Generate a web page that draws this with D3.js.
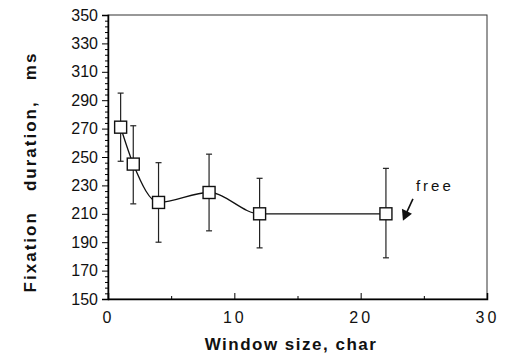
<!DOCTYPE html>
<html>
<head>
<meta charset="utf-8">
<script src="https://cdn.jsdelivr.net/npm/d3@7"></script>
<style>
  body { margin: 0; background: #fff; }
  text { font-family: "Liberation Sans", Arial, sans-serif; fill: #111; }
</style>
</head>
<body>
<div id="chart"></div>
<script>
// Datos
const windowSize = [1, 2, 4, 8, 12, 22];
const fixation = [271, 245, 218, 225, 210, 210];
const errTop = [295, 272, 246, 252, 235, 242];
const errBottom = [247, 217, 190, 198, 186, 179];
const yTicks = [150, 170, 190, 210, 230, 250, 270, 290, 310, 330, 350];
const xTicks = [0, 10, 20, 30];

const width = 505;
const height = 355;
const margin = { top: 15, right: 18, bottom: 56, left: 108 };

const x = d3.scaleLinear()
    .domain([0, 30])
    .range([margin.left, width - margin.right]);

const y = d3.scaleLinear()
    .domain([150, 350])
    .range([height - margin.bottom, margin.top]);

const svg = d3.select("#chart").append("svg")
    .attr("width", width)
    .attr("height", height);

// Marco
svg.append("rect")
    .attr("x", x(0))
    .attr("y", y(350))
    .attr("width", x(30) - x(0))
    .attr("height", y(150) - y(350))
    .attr("fill", "none")
    .attr("stroke", "#333")
    .attr("stroke-width", 1);

// Eje Y: menores cada 4
const yMinor = d3.range(150, 351, 4).filter(v => !yTicks.includes(v));
svg.append("g")
    .attr("transform", `translate(${x(0)},0)`)
    .call(d3.axisLeft(y).tickValues(yMinor).tickSize(3).tickFormat(""))
    .call(g => g.select(".domain").remove());

svg.append("g")
    .attr("transform", `translate(${x(0)},0)`)
    .call(d3.axisLeft(y).tickValues(yTicks).tickSize(6).tickPadding(4))
    .call(g => g.select(".domain").attr("stroke-width", 1.5))
    .call(g => g.selectAll("text").style("font-size", "16px"));

// Eje X
svg.append("g")
    .attr("transform", `translate(0,${y(150)})`)
    .call(d3.axisBottom(x).tickValues([5, 15, 25]).tickSize(-3).tickFormat(""))
    .call(g => g.select(".domain").remove());

svg.append("g")
    .attr("transform", `translate(0,${y(150)})`)
    .call(d3.axisBottom(x).tickValues(xTicks).tickSize(-6).tickPadding(13))
    .call(g => g.select(".domain").attr("stroke-width", 1.5))
    .call(g => g.selectAll("text").style("font-size", "16px").style("letter-spacing", "3px"));

// Barras de error
const pts = windowSize.map((w, i) => ({ w, v: fixation[i], hi: errTop[i], lo: errBottom[i] }));

const eb = svg.append("g").attr("stroke", "#222").attr("stroke-width", 1.2);
pts.forEach(d => {
    eb.append("line").attr("x1", x(d.w)).attr("x2", x(d.w)).attr("y1", y(d.hi)).attr("y2", y(d.lo));
    eb.append("line").attr("x1", x(d.w) - 3).attr("x2", x(d.w) + 3).attr("y1", y(d.hi)).attr("y2", y(d.hi));
    eb.append("line").attr("x1", x(d.w) - 3).attr("x2", x(d.w) + 3).attr("y1", y(d.lo)).attr("y2", y(d.lo));
});

// Curva suave
const line = d3.line()
    .x(d => x(d.w))
    .y(d => y(d.v))
    .curve(d3.curveMonotoneX);

svg.append("path")
    .datum(pts)
    .attr("d", line)
    .attr("fill", "none")
    .attr("stroke", "#111")
    .attr("stroke-width", 1.3);

// Marcadores cuadrados
svg.selectAll("rect.pt")
    .data(pts)
    .enter()
    .append("rect")
    .attr("class", "pt")
    .attr("x", d => x(d.w) - 6)
    .attr("y", d => y(d.v) - 6)
    .attr("width", 12)
    .attr("height", 12)
    .attr("fill", "#fff")
    .attr("stroke", "#111")
    .attr("stroke-width", 1.4);

// Anotación "free"
const fx = x(22), fy = y(210);
svg.append("text")
    .attr("x", fx + 30)
    .attr("y", fy - 23)
    .style("font-size", "15px")
    .style("letter-spacing", "3px")
    .text("free");

svg.append("line")
    .attr("x1", fx + 27).attr("y1", fy - 15)
    .attr("x2", fx + 21).attr("y2", fy - 2)
    .attr("stroke", "#111").attr("stroke-width", 1.6);
svg.append("path")
    .attr("d", `M${fx + 17},${fy + 7} L${fx + 16},${fy - 5} L${fx + 26},${fy} Z`)
    .attr("fill", "#111");

// Títulos de ejes
svg.append("text")
    .attr("x", 291)
    .attr("y", height - 5)
    .attr("text-anchor", "middle")
    .style("font-size", "17px")
    .style("font-weight", "bold")
    .style("letter-spacing", "1.5px")
    .text("Window size, char");

svg.append("text")
    .attr("transform", `translate(36,172) rotate(-90)`)
    .attr("text-anchor", "middle")
    .style("font-size", "17px")
    .style("font-weight", "bold")
    .style("letter-spacing", "2px")
    .style("white-space", "pre")
    .text("Fixation   duration,   ms");
</script>
</body>
</html>
